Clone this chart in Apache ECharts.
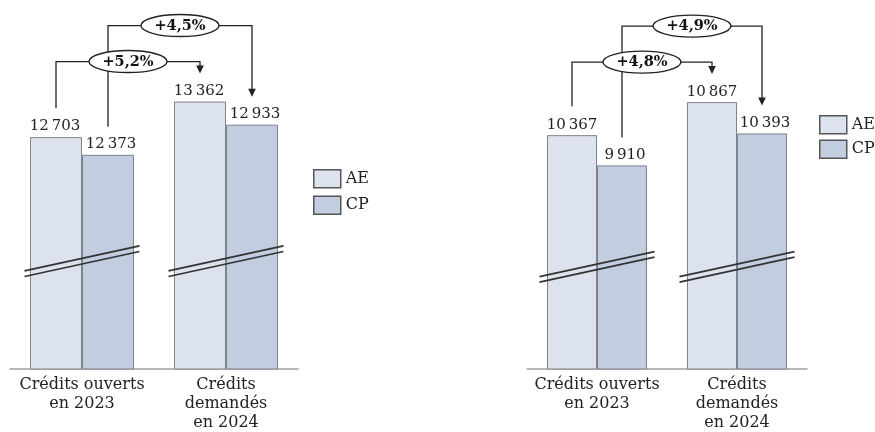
<!DOCTYPE html>
<html><head><meta charset="utf-8">
<script src="https://cdn.jsdelivr.net/npm/echarts@6/dist/echarts.min.js"></script>
<style>html,body{margin:0;padding:0;background:#fff}#c{width:875px;height:432px}</style>
</head><body><div id="c"></div>
<script>
// ---- data ----
const categories = ['Crédits ouverts\nen 2023', 'Crédits\ndemandés\nen 2024'];
const seriesNames = ['AE', 'CP'];
const leftAE = [12703, 13362];
const leftCP = [12373, 12933];
const rightAE = [10367, 10867];
const rightCP = [9910, 10393];
const leftChanges = ['+5,2%', '+4,5%'];   // AE, CP
const rightChanges = ['+4,8%', '+4,9%'];  // AE, CP
const leftAxisRange = [8400, 15005];
const rightAxisRange = [6830, 12230];
const leftBreakValue = 10400;
const rightBreakValue = 8375;

const FONT = 'DejaVu Serif';
const AE_COLOR = '#dde3ee', CP_COLOR = '#c3cde0', BORDER = '#7d828b';
const BAR_W = [52, 50];

function fmt(v) { return String(v).replace(/\B(?=(\d{3})+(?!\d))/g, '\u202f'); }

function barSeries(name, data, gi, color, offX) {
  return {
    type: 'bar', name: name, data: data, xAxisIndex: gi, yAxisIndex: gi,
    barWidth: BAR_W[gi], barGap: '0%',
    itemStyle: { color: color, borderColor: BORDER, borderWidth: 1 },
    label: { show: true, position: 'top', distance: 3, offset: [offX, 0],
      fontFamily: FONT, fontSize: 15, color: '#222', formatter: p => fmt(p.value) },
    silent: true, animation: false
  };
}
function breakSeries(gi, v) {
  return {
    type: 'custom', xAxisIndex: gi, yAxisIndex: gi, silent: true, animation: false, z: 5,
    data: categories.map((c, i) => [i, v]),
    renderItem: function (params, api) {
      const p = api.coord([api.value(0), api.value(1)]);
      const hx = 57.5, hy = 12.5, off = 2.8;
      const mk = d => ({ type: 'line', shape: { x1: p[0] - hx, y1: p[1] + hy + d, x2: p[0] + hx, y2: p[1] - hy + d },
        style: { stroke: '#333', lineWidth: 1.7 } });
      return { type: 'group', children: [mk(-off), mk(off)] };
    }
  };
}
function xAxis(gi) {
  return {
    type: 'category', gridIndex: gi, data: categories,
    axisLine: { lineStyle: { color: '#a0a0a0', width: 1.5 } },
    axisTick: { show: false },
    axisLabel: { interval: 0, fontFamily: FONT, fontSize: 16, lineHeight: 19, color: '#222', margin: 6 }
  };
}
function yAxis(gi, r) { return { type: 'value', gridIndex: gi, min: r[0], max: r[1], show: false, splitLine: { show: false } }; }
function legend(left, top, gap) {
  return {
    data: seriesNames, left: left, top: top, orient: 'vertical', icon: 'rect',
    itemWidth: 27, itemHeight: 18, itemGap: gap, selectedMode: false,
    itemStyle: { borderColor: '#555', borderWidth: 1.5 },
    textStyle: { fontFamily: FONT, fontSize: 16, color: '#222' }
  };
}

const chart = echarts.init(document.getElementById('c'), null, { renderer: 'canvas' });
chart.setOption({
  animation: false,
  grid: [
    { left: 10, width: 288, top: 13, bottom: 60 },
    { left: 527, width: 280, top: 12, bottom: 60 }
  ],
  xAxis: [xAxis(0), xAxis(1)],
  yAxis: [yAxis(0, leftAxisRange), yAxis(1, rightAxisRange)],
  legend: [legend(308, 164, 7), legend(814, 110, 5)],
  series: [
    barSeries('AE', leftAE, 0, AE_COLOR, -1),
    barSeries('CP', leftCP, 0, CP_COLOR, 3),
    barSeries('AE', rightAE, 1, AE_COLOR, 0),
    barSeries('CP', rightCP, 1, CP_COLOR, 3),
    breakSeries(0, leftBreakValue),
    breakSeries(1, rightBreakValue)
  ]
});

// ---- change brackets, positioned from the axes ----
function brackets(gi, ae, cp, changes) {
  const bw = BAR_W[gi];
  const pt = (c, v) => chart.convertToPixel({ xAxisIndex: gi, yAxisIndex: gi }, [c, v]);
  const ae0 = pt(0, ae[0]), ae1 = pt(1, ae[1]), cp0 = pt(0, cp[0]), cp1 = pt(1, cp[1]);
  const top1 = Math.min(ae1[1], cp1[1]);
  const levA = top1 - 40, levB = top1 - 76;
  const defs = [
    { x1: ae0[0] - bw / 2, y1: ae0[1] - 29, x2: ae1[0] - bw / 2, tip: ae1[1] - 28, lev: levA, txt: changes[0] },
    { x1: cp0[0] + bw / 2, y1: cp0[1] - 28, x2: cp1[0] + bw / 2, tip: cp1[1] - 28, lev: levB, txt: changes[1] }
  ];
  const lines = [], ells = [];
  defs.forEach(d => {
    lines.push({ type: 'polyline', shape: { points: [[d.x1, d.y1], [d.x1, d.lev], [d.x2, d.lev], [d.x2, d.tip - 7]] },
      style: { stroke: '#222', lineWidth: 1.3, fill: null }, z: 10 });
    lines.push({ type: 'polygon', shape: { points: [[d.x2 - 3.8, d.tip - 8], [d.x2 + 3.8, d.tip - 8], [d.x2, d.tip]] },
      style: { fill: '#222' }, z: 10 });
    const cx = (d.x1 + d.x2) / 2;
    ells.push({ type: 'ellipse', shape: { cx: cx, cy: d.lev, rx: 39, ry: 11 },
      style: { fill: '#fff', stroke: '#222', lineWidth: 1.4 }, z: 11 });
    ells.push({ type: 'text', x: cx, y: d.lev + 0.5, z: 12,
      style: { text: d.txt, fontFamily: FONT, fontWeight: 'bold', fontSize: 14.5, fill: '#111', align: 'center', verticalAlign: 'middle' } });
  });
  return lines.concat(ells);
}
chart.setOption({ graphic: brackets(0, leftAE, leftCP, leftChanges).concat(brackets(1, rightAE, rightCP, rightChanges)) });
</script>
</body></html>
